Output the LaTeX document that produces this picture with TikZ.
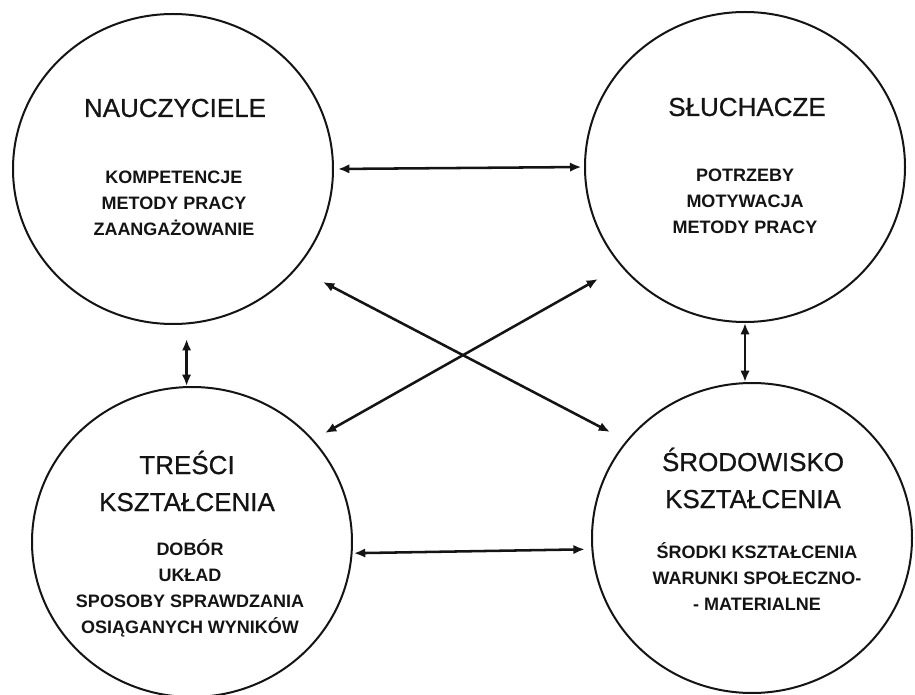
\documentclass[tikz,border=0pt]{standalone}
\usepackage{fontspec}
\setmainfont{Liberation Sans}
\newfontfamily\ttlfamily[FakeBold=0.7]{Liberation Sans}
\usetikzlibrary{shapes.geometric,arrows.meta}
\definecolor{ink}{RGB}{20,20,20}
\tikzset{
  ring/.style={draw=ink, line width=1.5pt, ellipse, minimum width=240pt, minimum height=232.5pt, inner sep=0pt},
  ttl/.style={text=ink, align=center, inner sep=0pt, font=\ttlfamily\fontsize{19.5}{27.75}\selectfont},
  sub/.style={text=ink, align=center, inner sep=0pt, font=\bfseries\fontsize{13.5}{19.5}\selectfont},
  arr/.style={draw=ink, line width=1.9pt, {Latex[length=8.5pt,width=7pt]}-{Latex[length=8.5pt,width=7pt]}}
}
\begin{document}
\begin{tikzpicture}[x=0.75pt,y=-0.75pt]
\useasboundingbox (0,0) rectangle (915,695);
\fill[white] (0,0) rectangle (915,695);

% circles
\node[ring] (n1) at (173,169) {};
\node[ring] (n2) at (745,167) {};
\node[ring] (n3) at (192,542) {};
\node[ring] (n4) at (752,538) {};

% texts
\node[ttl] (t1) at (175,108) {NAUCZYCIELE};
\node[sub] (s1) at (174,203) {KOMPETENCJE\\METODY PRACY\\ZAANGAŻOWANIE};

\node[ttl] (t2) at (747,107) {SŁUCHACZE};
\node[sub] (s2) at (745,201) {POTRZEBY\\MOTYWACJA\\METODY PRACY};

\node[ttl] (t3) at (187,481) {TREŚCI\\KSZTAŁCENIA};
\node[sub] (s3) at (190,588) {DOBÓR\\UKŁAD\\SPOSOBY SPRAWDZANIA\\OSIĄGANYCH WYNIKÓW};

\node[ttl] (t4) at (753,478) {ŚRODOWISKO\\KSZTAŁCENIA};
\node[sub] (s4) at (757,577) {ŚRODKI KSZTAŁCENIA\\WARUNKI SPOŁECZNO-\\- MATERIALNE};

% free ends of the diagonal arrows
\coordinate (d1a) at (323,282);
\coordinate (d1b) at (610,432);
\coordinate (d2a) at (598,279);
\coordinate (d2b) at (325,433);

% connectors
\draw[arr, shorten <=3pt, shorten >=2pt] (n1.east) -- (n2.west);
\draw[arr, shorten <=1pt, shorten >=5pt] (n3.-4) -- (n4.184);
\draw[arr, shorten <=11pt] (n1.-85) -- (n1.-85 |- n3.north);
\draw[arr] (n2.south) -- (n2.south |- n4.north);
\draw[arr] (d1a) -- (d1b);
\draw[arr] (d2a) -- (d2b);
\end{tikzpicture}
\end{document}
